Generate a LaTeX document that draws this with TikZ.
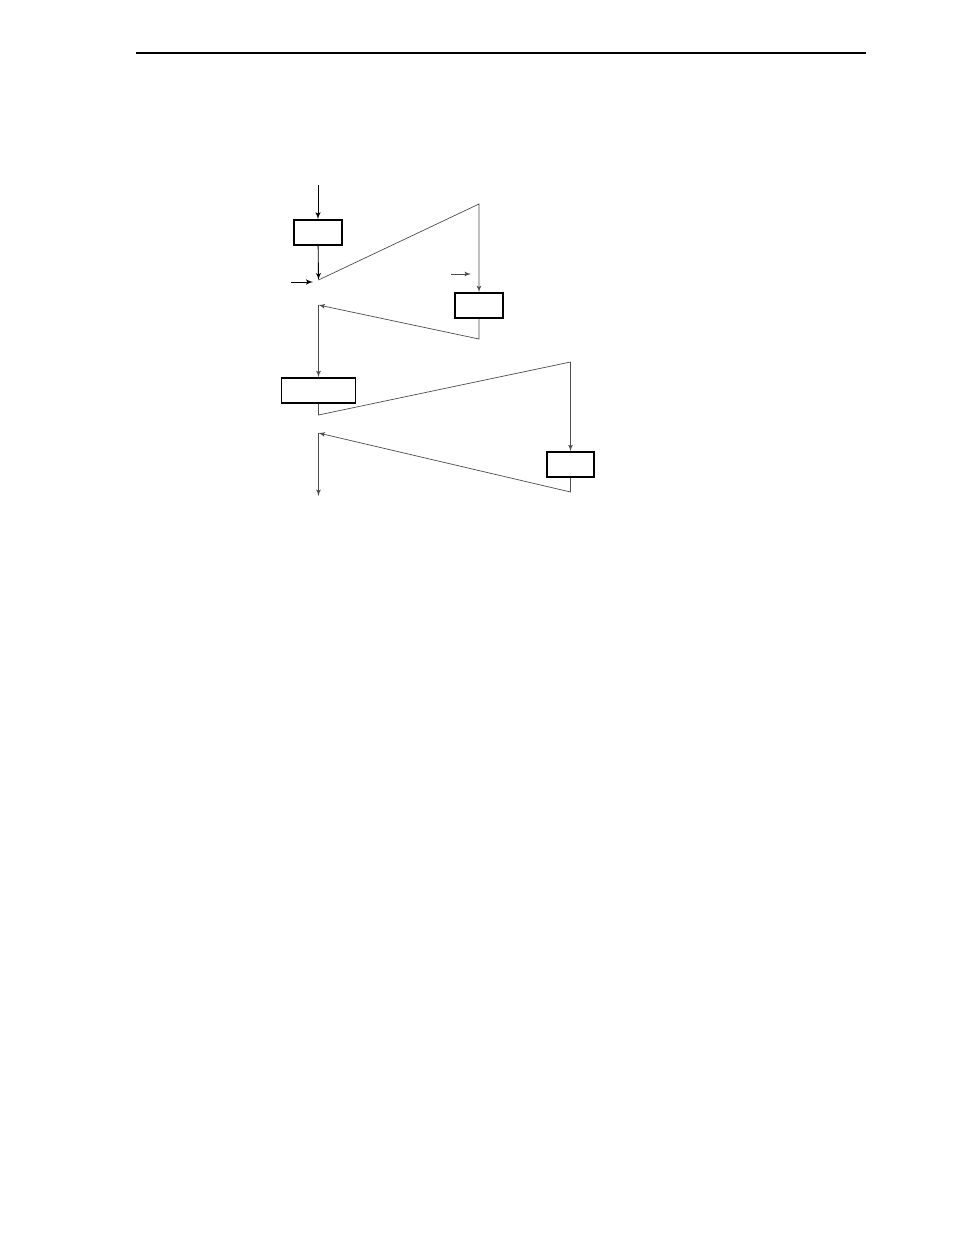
\documentclass[tikz,border=0pt]{standalone}
\usepackage{tikz}
\usetikzlibrary{arrows}
\usetikzlibrary{positioning}
\tikzset{box/.style = {draw, line width=1.1pt, inner sep=0pt, minimum height=0.56cm},
         flow/.style = {-latex', line width=0.45pt, black!70},
         feed/.style = {-latex', line width=0.55pt, black}}

\begin{document}
\begin{tikzpicture}[x=0.02254cm, y=-0.02254cm]
    \useasboundingbox (0, 0) rectangle (954, 1235);
    \draw [line width=0.8pt] (136, 53) -- (866, 53);

    \node [box, minimum width=1.08cm] (stageA) at (318, 232.5) {};
    \node [box, minimum width=1.08cm] (stageB) at (479, 305.5) {};
    \node [box, minimum width=1.67cm] (stageC) at (318.5, 390.5) {};
    \node [box, minimum width=1.06cm] (stageD) at (570.5, 464.5) {};

    \coordinate (in) at (318, 185);
    \coordinate (sumA) at (318.5, 280);
    \coordinate (sideA) at (291, 282);
    \coordinate (topB) at (479, 204);
    \coordinate (sideB) at (451, 274);
    \coordinate (botB) at (479, 339);
    \coordinate (sumB) at (318.5, 305);
    \coordinate (sumC) at (318.5, 415);
    \coordinate (topD) at (570.5, 362);
    \coordinate (botD) at (570.5, 492);
    \coordinate (sumD) at (318.5, 433);
    \coordinate (out) at (318.5, 496);

    \draw [feed] (in) -- (stageA);
    \draw [feed] (stageA) -- (sumA);
    \draw [feed] (sideA) -- ++(22, 0);
    \draw [flow] (sumA) -- (topB) -- (stageB);
    \draw [flow] (sideB) -- ++(20, 0);
    \draw [flow] (stageB) -- (botB) -- (sumB);
    \draw [flow] (sumB) -- (stageC);
    \draw [flow, -] (stageC) -- (sumC) -- (topD);
    \draw [flow] (topD) -- (stageD);
    \draw [flow] (stageD) -- (botD) -- (sumD);
    \draw [flow] (sumD) -- (out);
\end{tikzpicture}
\end{document}
